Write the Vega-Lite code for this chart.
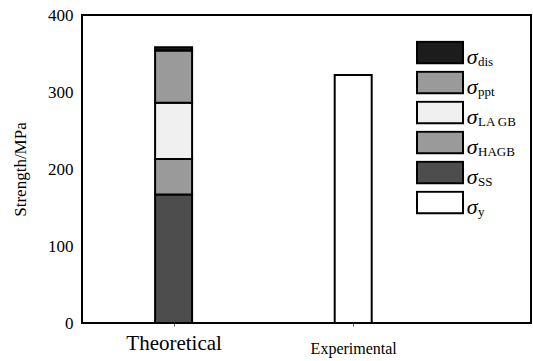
{
  "$schema": "https://vega.github.io/schema/vega-lite/v6.json",
  "autosize": "none",
  "width": 449,
  "height": 308,
  "padding": {"left": 82, "top": 15, "right": 2, "bottom": 38},
  "background": "white",
  "config": {
    "view": {"stroke": "black", "strokeWidth": 2},
    "font": "Liberation Serif",
    "axis": {"grid": false, "domain": false, "labelFont": "Liberation Serif", "titleFont": "Liberation Serif", "labelColor": "black", "titleColor": "black"}
  },
  "data": {
    "values": [
      {"group": "Theoretical", "comp": "SS", "value": 167},
      {"group": "Theoretical", "comp": "HAGB", "value": 46},
      {"group": "Theoretical", "comp": "LA GB", "value": 73},
      {"group": "Theoretical", "comp": "ppt", "value": 68},
      {"group": "Theoretical", "comp": "dis", "value": 4},
      {"group": "Experimental", "comp": "y", "value": 322}
    ]
  },
  "encoding": {
    "x": {
      "field": "group", "type": "nominal",
      "scale": {"type": "point", "domain": ["Theoretical", "Experimental"], "padding": 0.75, "align": 0.34},
      "axis": {
        "title": null, "labelAngle": 0, "labelBaseline": "top", "labelFont": "Liberation Serif",
        "labelFontSize": {"condition": {"test": "datum.value == 'Theoretical'", "value": 21}, "value": 16},
        "labelPadding": {"condition": {"test": "datum.value == 'Theoretical'", "value": 6}, "value": 14},
        "ticks": true, "tickSize": 3, "tickColor": "#555", "tickWidth": 1
      }
    },
    "y": {
      "field": "value", "type": "quantitative",
      "scale": {"domain": [0, 400], "nice": false},
      "axis": {"title": "Strength/MPa", "values": [0, 100, 200, 300, 400], "ticks": false, "labelPadding": 9, "labelFont": "Liberation Serif", "titleFont": "Liberation Serif", "labelFontSize": 17, "titleFontSize": 17, "titleFontWeight": "normal", "titlePadding": 18}
    }
  },
  "layer": [
    {
      "transform": [{"calculate": "datum.comp == 'SS' ? 1 : datum.comp == 'HAGB' ? 2 : datum.comp == 'LA GB' ? 3 : datum.comp == 'ppt' ? 4 : datum.comp == 'dis' ? 5 : 0", "as": "stackOrder"}],
      "mark": {"type": "bar", "size": 37, "stroke": "black", "strokeWidth": 2},
      "encoding": {
        "y": {"field": "value", "type": "quantitative", "stack": "zero"},
        "fill": {
          "field": "comp", "type": "nominal",
          "scale": {"domain": ["dis", "ppt", "LA GB", "HAGB", "SS", "y"], "range": ["#1c1c1c", "#9a9a9a", "#f0f0f0", "#9a9a9a", "#4d4d4d", "#ffffff"]},
          "legend": {
            "orient": "none", "legendX": 334, "legendY": 25.5, "title": null, "padding": 0,
            "symbolType": "M-1,-0.6H1V0.34H-1Z", "symbolSize": 2116, "symbolStrokeColor": "black", "symbolStrokeWidth": 2,
            "clipHeight": 30, "rowPadding": 0, "labelOffset": 14,
            "labelFont": "Liberation Serif", "labelFontSize": 13, "labelBaseline": "top", "labelColor": "black"
          }
        },
        "order": {"field": "stackOrder", "type": "quantitative", "sort": "ascending"}
      }
    },
    {
      "transform": [{"calculate": "'σ' + datum.comp", "as": "sig"}],
      "mark": {"type": "point", "opacity": 0},
      "encoding": {
        "shape": {
          "field": "sig", "type": "nominal",
          "scale": {"domain": ["σdis", "σppt", "σLA GB", "σHAGB", "σSS", "σy"]},
          "legend": {
            "orient": "none", "legendX": 362.7, "legendY": 26.7, "title": null, "padding": 0,
            "symbolSize": 1, "symbolOpacity": 0, "clipHeight": 30, "rowPadding": 0, "labelOffset": 0,
            "labelExpr": "'σ'", "labelFont": "Liberation Serif", "labelFontStyle": "italic", "labelFontSize": 22, "labelBaseline": "middle", "labelColor": "black"
          }
        }
      }
    }
  ]
}
